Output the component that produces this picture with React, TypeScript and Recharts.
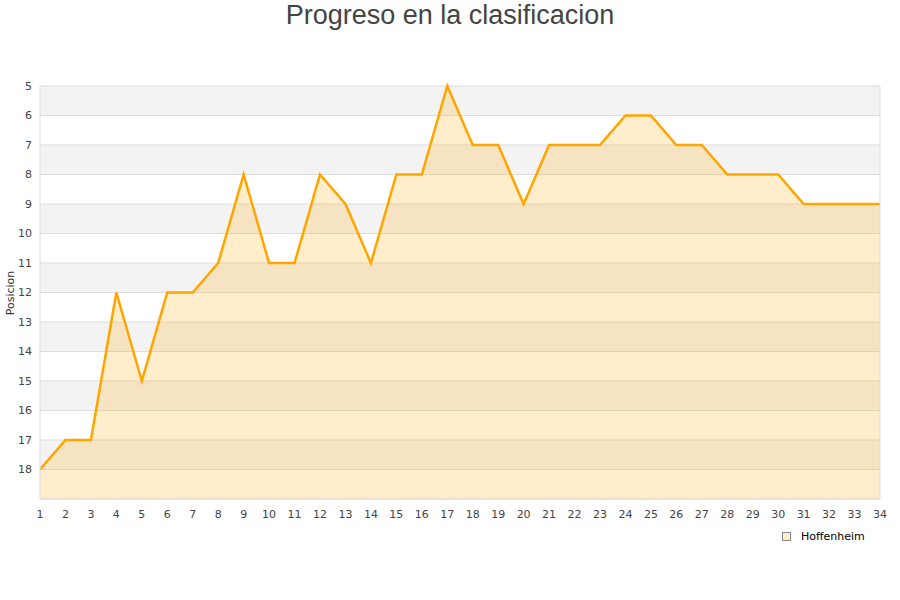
import {
  AreaChart,
  Area,
  XAxis,
  YAxis,
  CartesianGrid,
  ReferenceLine,
  Label,
} from 'recharts';

const jornadas = [
  1, 2, 3, 4, 5, 6, 7, 8, 9, 10, 11, 12, 13, 14, 15, 16, 17,
  18, 19, 20, 21, 22, 23, 24, 25, 26, 27, 28, 29, 30, 31, 32, 33, 34,
];
const posiciones = [
  18, 17, 17, 12, 15, 12, 12, 11, 8, 11, 11, 8, 9, 11, 8, 8, 5,
  7, 7, 9, 7, 7, 7, 6, 6, 7, 7, 8, 8, 8, 9, 9, 9, 9,
];
const yTicks = [5, 6, 7, 8, 9, 10, 11, 12, 13, 14, 15, 16, 17, 18];
const equipo = 'Hoffenheim';

const data = jornadas.map((j, i) => ({ jornada: j, posicion: posiciones[i] }));

const tickStyle = { fontFamily: 'DejaVu Sans', fontSize: 11, fill: '#444' };

export default function App() {
  return (
    <div style={{ position: 'absolute', left: 0, top: 0, width: 900, height: 600, background: '#fff' }}>
      <div
        style={{
          position: 'absolute',
          left: 0,
          top: 0,
          width: 900,
          textAlign: 'center',
          fontFamily: 'Liberation Sans',
          fontSize: 27,
          lineHeight: '30px',
          color: '#444',
        }}
      >
        Progreso en la clasificacion
      </div>
      <AreaChart
        width={900}
        height={600}
        data={data}
        margin={{ top: 86, right: 20, bottom: 0, left: 0 }}
      >
        <CartesianGrid
          vertical={false}
          stroke="#dddddd"
          horizontalFill={['#f3f3f3', '#ffffff']}
        />
        <XAxis
          dataKey="jornada"
          type="number"
          domain={[1, 34]}
          ticks={jornadas}
          interval={0}
          height={101}
          tickLine={false}
          tickSize={8}
          tickMargin={3}
          axisLine={{ stroke: '#dddddd' }}
          tick={tickStyle}
        />
        <YAxis
          type="number"
          reversed
          domain={[5, 19]}
          ticks={yTicks}
          interval={0}
          width={40}
          tickLine={false}
          tickSize={6}
          tickMargin={2}
          axisLine={{ stroke: '#dddddd' }}
          tick={tickStyle}
        >
          <Label
            content={() => (
              <text
                x={14}
                y={293}
                transform="rotate(-90 14 293)"
                textAnchor="middle"
                fontFamily="DejaVu Sans"
                fontSize={11}
                fill="#333"
              >
                Posicion
              </text>
            )}
          />
        </YAxis>
        <ReferenceLine x={34} stroke="#dddddd" />
        <Area
          type="linear"
          dataKey="posicion"
          name={equipo}
          baseValue={19}
          stroke="#ffa500"
          strokeWidth={2.5}
          fill="#ffa500"
          fillOpacity={0.2}
          dot={false}
          activeDot={false}
          isAnimationActive={false}
        />
      </AreaChart>
      <div
        style={{
          position: 'absolute',
          left: 782,
          top: 530,
          display: 'flex',
          alignItems: 'center',
          fontFamily: 'DejaVu Sans',
          fontSize: 11,
          color: '#000',
        }}
      >
        <span
          style={{
            display: 'inline-block',
            width: 7,
            height: 7,
            background: '#ffecc8',
            border: '1px solid #888',
            marginRight: 10,
          }}
        />
        {equipo}
      </div>
    </div>
  );
}
